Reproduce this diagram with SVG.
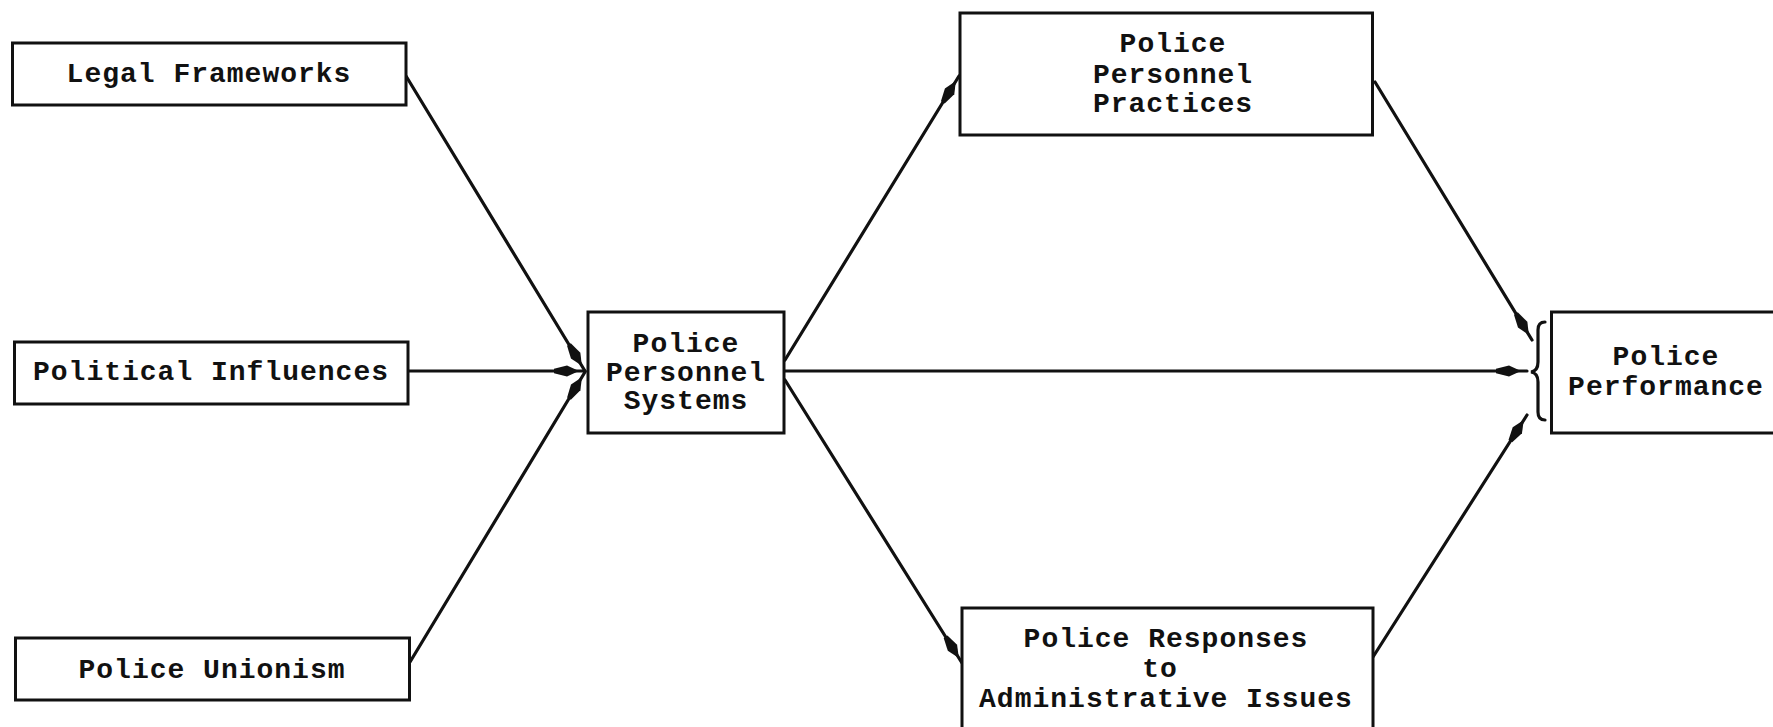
<svg xmlns="http://www.w3.org/2000/svg" width="1773" height="727" viewBox="0 0 1773 727">
<style>
.box{fill:#fff;stroke:#111;stroke-width:3}
.t{font-family:"Liberation Mono","DejaVu Sans Mono",monospace;font-weight:bold;font-size:28px;letter-spacing:1px;fill:#111;text-anchor:middle}
.c{fill:none;stroke:#111;stroke-width:3.2;stroke-linecap:round}
</style>
<defs>
<marker id="ah" markerUnits="userSpaceOnUse" orient="auto" viewBox="-30 -7 40 14" markerWidth="40" markerHeight="14" refX="6" refY="0">
<path d="M0,0 L-12,-5.5 L-25,-2.2 L-25,2.2 L-12,5.5 Z" fill="#111"/>
</marker>
</defs>
<rect width="1773" height="727" fill="#fff"/>
<g id="connectors">
<line class="c" x1="406" y1="76" x2="585" y2="371" marker-end="url(#ah)"/>
<line class="c" x1="409" y1="371" x2="585" y2="371" marker-end="url(#ah)"/>
<line class="c" x1="410" y1="662" x2="585" y2="372" marker-end="url(#ah)"/>
<line class="c" x1="785" y1="360" x2="959" y2="76" marker-end="url(#ah)"/>
<line class="c" x1="785" y1="371" x2="1527" y2="371" marker-end="url(#ah)"/>
<line class="c" x1="785" y1="380" x2="962" y2="663" marker-end="url(#ah)"/>
<line class="c" x1="1375" y1="82" x2="1532" y2="340" marker-end="url(#ah)"/>
<line class="c" x1="1373" y1="657" x2="1527" y2="415" marker-end="url(#ah)"/>
<path class="c" d="M1545,322 Q1538,322 1538,330 L1538,362 Q1538,371 1531,372 Q1538,373 1538,382 L1538,412 Q1538,420 1545,420"/>
</g>
<g id="legal">
<rect class="box" x="12.5" y="43" width="393.5" height="62"/>
<text class="t" x="209" y="82">Legal Frameworks</text>
</g>
<g id="political">
<rect class="box" x="14.5" y="342" width="393.5" height="62"/>
<text class="t" x="211" y="380">Political Influences</text>
</g>
<g id="unionism">
<rect class="box" x="15.5" y="638" width="394" height="62"/>
<text class="t" x="212" y="678">Police Unionism</text>
</g>
<g id="systems">
<rect class="box" x="588" y="312" width="196" height="121"/>
<text class="t" x="686" y="352">Police</text>
<text class="t" x="686" y="381">Personnel</text>
<text class="t" x="686" y="409">Systems</text>
</g>
<g id="practices">
<rect class="box" x="960" y="13" width="412.5" height="122"/>
<text class="t" x="1173" y="52">Police</text>
<text class="t" x="1173" y="83">Personnel</text>
<text class="t" x="1173" y="112">Practices</text>
</g>
<g id="responses">
<rect class="box" x="962" y="608" width="411" height="140"/>
<text class="t" x="1166" y="647">Police Responses</text>
<text class="t" x="1160" y="677">to</text>
<text class="t" x="1166" y="707">Administrative Issues</text>
</g>
<g id="performance">
<rect class="box" x="1551.5" y="312" width="260" height="121"/>
<text class="t" x="1666" y="365">Police</text>
<text class="t" x="1666" y="395">Performance</text>
</g>
</svg>
